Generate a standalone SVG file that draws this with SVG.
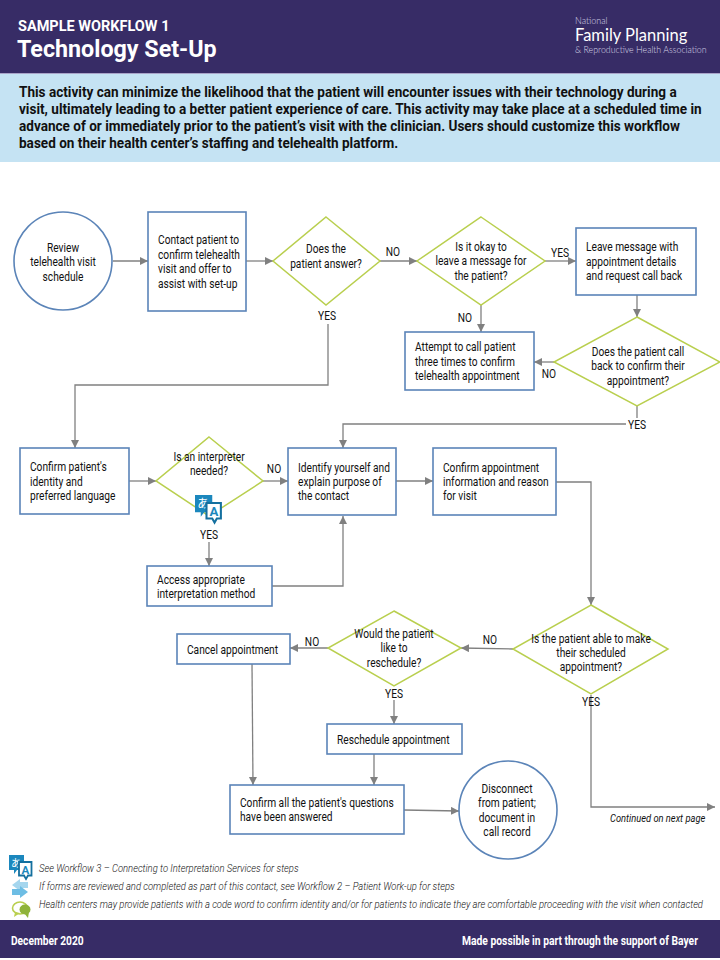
<svg xmlns="http://www.w3.org/2000/svg" width="720" height="960" viewBox="0 0 720 960">
<defs>
<marker id="arr" markerUnits="userSpaceOnUse" markerWidth="9" markerHeight="9" refX="8" refY="4" orient="auto"><path d="M0 0L8 4L0 8Z" fill="#808080"/></marker>
<g id="ico-lang">
<path d="M0 0H15V15H8L5 19V15H0Z" fill="#1b87bd"/>
<text x="2" y="11.500" style="font-family:'Noto Sans CJK JP',sans-serif;font-size:10.500px;fill:#fff;transform:none">あ</text>
<path d="M10 7H22.500V20.500H19L17 24L15 20.500H10Z" fill="#fff" stroke="#14709f" stroke-width="1.800"/>
<text x="12.500" y="18.500" style="font-size:11.500px;font-weight:700;fill:#1b87bd;transform:none">A</text>
</g>
</defs>
<style>
text{font-family:Roboto,"Liberation Sans",sans-serif;font-size:12px;fill:#111;transform-box:fill-box;transform-origin:0 50%;transform:scaleX(.85)}
.b{fill:#fff;stroke:#5b84b8;stroke-width:1.6}
.d{fill:none;stroke:#b9cf4e;stroke-width:1.5}
.c{fill:none;stroke:#808080;stroke-width:1.3}
.a{marker-end:url(#arr)}
.m{text-anchor:middle;transform-origin:50% 50%}
.w{fill:#fff;font-weight:700}
.h{font-weight:700;font-size:15px;transform:scaleX(.905)}
.n{font-style:italic;font-size:11px;font-weight:300;fill:#111;transform:scaleX(.86)}
</style>
<rect id="header" x="0" y="0" width="720" height="73" fill="#372c66"/>
<rect x="0" y="73" width="720" height="1" fill="#a9a4c9"/>
<rect id="intro" x="0" y="74" width="720" height="88" fill="#c5e3f3"/>
<text class="w" x="18" y="31" style="font-size:14.500px;transform:none">SAMPLE WORKFLOW 1</text>
<text class="w" x="17" y="57" style="font-size:24px;transform:scaleX(.97)">Technology Set-Up</text>
<text x="575" y="24" style="font-family:Lato,sans-serif;font-size:9px;font-weight:300;fill:#d8d6e6;transform:none">National</text>
<text x="575" y="41" style="font-family:Lato,sans-serif;font-size:16.500px;fill:#fff;transform:none">Family Planning</text>
<text x="575" y="53" style="font-family:Lato,sans-serif;font-size:8.800px;font-weight:300;fill:#d8d6e6;transform:none">&amp; Reproductive Health Association</text>
<text class="h" x="19" y="97">This activity can minimize the likelihood that the patient will encounter issues with their technology during a</text>
<text class="h" x="19" y="114">visit, ultimately leading to a better patient experience of care. This activity may take place at a scheduled time in</text>
<text class="h" x="19" y="131">advance of or immediately prior to the patient’s visit with the clinician. Users should customize this workflow</text>
<text class="h" x="19" y="148">based on their health center’s staffing and telehealth platform.</text>
<g id="connectors">
<path class="c a" d="M113 261H148"/>
<path class="c a" d="M246 261H273"/>
<path class="c a" d="M380 261H417"/>
<path class="c a" d="M545 261H576"/>
<path class="c a" d="M481 305V332"/>
<path class="c a" d="M637 295V317"/>
<path class="c a" d="M554 362H534"/>
<path class="c" d="M637 406V418"/>
<path class="c a" d="M626 424H343V448"/>
<path class="c a" d="M328 324V385H75V448"/>
<path class="c a" d="M129 481H156"/>
<path class="c a" d="M263 481H288"/>
<path class="c a" d="M209 542V566"/>
<path class="c a" d="M272 586H343V516"/>
<path class="c a" d="M396 481H433"/>
<path class="c a" d="M556 482H591V605"/>
<path class="c a" d="M513 649L461 648"/>
<path class="c a" d="M328 648H290"/>
<path class="c a" d="M394 700V724"/>
<path class="c a" d="M374 754V785"/>
<path class="c a" d="M252 664L253 785"/>
<path class="c a" d="M404 810L459 811"/>
<path class="c a" d="M591 695V807H715"/>
</g>
<g id="n1"><circle class="b" cx="63" cy="261" r="49"/><text class="m" x="63" y="252">Review</text><text class="m" x="63" y="266">telehealth visit</text><text class="m" x="63" y="281">schedule</text></g>
<g id="n2"><rect class="b" x="148" y="212" width="98" height="99"/><text x="158" y="244">Contact patient to</text><text x="158" y="259">confirm telehealth</text><text x="158" y="273">visit and offer to</text><text x="158" y="288">assist with set-up</text></g>
<g id="n3"><path class="d" d="M326 217L380 261L326 305L273 261Z"/><text class="m" x="326" y="253">Does the</text><text class="m" x="326" y="268">patient answer?</text></g>
<g id="n4"><path class="d" d="M481 217L545 261L481 305L417 261Z"/><text class="m" x="481" y="251">Is it okay to</text><text class="m" x="481" y="265">leave a message for</text><text class="m" x="481" y="280">the patient?</text></g>
<g id="n5"><rect class="b" x="576" y="228" width="120" height="67"/><text x="586" y="251">Leave message with</text><text x="586" y="266">appointment details</text><text x="586" y="280">and request call back</text></g>
<g id="n6"><rect class="b" x="405" y="332" width="129" height="58"/><text x="415" y="351">Attempt to call patient</text><text x="415" y="366">three times to confirm</text><text x="415" y="380">telehealth appointment</text></g>
<g id="n7"><path class="d" d="M637 317L720 362L637 406L554 362Z"/><text class="m" x="638" y="356">Does the patient call</text><text class="m" x="638" y="370">back to confirm their</text><text class="m" x="638" y="385">appointment?</text></g>
<g id="n8"><rect class="b" x="20" y="448" width="109" height="66"/><text x="30" y="471">Confirm patient's</text><text x="30" y="486">identity and</text><text x="30" y="500">preferred language</text></g>
<g id="n9"><path class="d" d="M209 437L263 481L209 516L156 481Z"/><text class="m" x="209" y="461">Is an interpreter</text><text class="m" x="209" y="475">needed?</text><use href="#ico-lang" transform="translate(195 495) scale(1.150)"/></g>
<g id="n10"><rect class="b" x="288" y="448" width="108" height="67"/><text x="298" y="472">Identify yourself and</text><text x="298" y="486">explain purpose of</text><text x="298" y="500">the contact</text></g>
<g id="n11"><rect class="b" x="433" y="448" width="123" height="67"/><text x="443" y="472">Confirm appointment</text><text x="443" y="486">information and reason</text><text x="443" y="500">for visit</text></g>
<g id="n12"><rect class="b" x="147" y="566" width="125" height="40"/><text x="157" y="584">Access appropriate</text><text x="157" y="598">interpretation method</text></g>
<g id="n13"><path class="d" d="M591 605L668 649L591 694L513 649Z"/><text class="m" x="591" y="643">Is the patient able to make</text><text class="m" x="591" y="657">their scheduled</text><text class="m" x="591" y="671">appointment?</text></g>
<g id="n14"><path class="d" d="M394 611L461 648L394 686L328 648Z"/><text class="m" x="394" y="638">Would the patient</text><text class="m" x="394" y="652">like to</text><text class="m" x="394" y="667">reschedule?</text></g>
<g id="n15"><rect class="b" x="177" y="634" width="113" height="30"/><text x="187" y="654">Cancel appointment</text></g>
<g id="n16"><rect class="b" x="327" y="724" width="135" height="30"/><text x="337" y="744">Reschedule appointment</text></g>
<g id="n17"><rect class="b" x="230" y="785" width="174" height="49"/><text x="240" y="807">Confirm all the patient's questions</text><text x="240" y="821">have been answered</text></g>
<g id="n18"><circle class="b" cx="508" cy="810" r="49"/><text class="m" x="507" y="793">Disconnect</text><text class="m" x="507" y="807">from patient;</text><text class="m" x="507" y="822">document in</text><text class="m" x="507" y="836">call record</text></g>
<g id="labels">
<text class="m" x="327" y="320">YES</text><text class="m" x="393" y="256">NO</text><text class="m" x="560" y="257">YES</text><text class="m" x="465" y="322">NO</text><text class="m" x="549" y="378">NO</text><text class="m" x="637" y="429">YES</text><text class="m" x="274" y="473">NO</text><text class="m" x="209" y="539">YES</text><text class="m" x="490" y="644">NO</text><text class="m" x="312" y="646">NO</text><text class="m" x="394" y="698">YES</text><text class="m" x="591" y="706">YES</text>
<text x="610" y="822" style="font-style:italic;font-size:11px;transform:scaleX(.85)">Continued on next page</text>
</g>
<g id="legend">
<use href="#ico-lang" x="9" y="855"/>
<path d="M20 879L12 885L20 891V888H28V882H20Z" fill="#a5d6ee"/>
<path d="M20 886L28 892L20 898V895H12V889H20Z" fill="#6dbde4"/>
<ellipse cx="20" cy="908" rx="7.500" ry="6" fill="#fff" stroke="#b9cf4e" stroke-width="1.600"/>
<path d="M15 912L14 917L20 913Z" fill="#b9cf4e"/>
<ellipse cx="25" cy="909.500" rx="5.500" ry="5" fill="#8fb33a"/>
<path d="M24 913L28 918L29 912Z" fill="#8fb33a"/>
<text class="n" x="39" y="872">See Workflow 3 – Connecting to Interpretation Services for steps</text>
<text class="n" x="39" y="890">If forms are reviewed and completed as part of this contact, see Workflow 2 – Patient Work-up for steps</text>
<text class="n" x="39" y="908">Health centers may provide patients with a code word to confirm identity and/or for patients to indicate they are comfortable proceeding with the visit when contacted</text>
</g>
<g id="footer">
<rect x="0" y="920" width="720" height="38" fill="#372c66"/>
<text class="w" x="11" y="945">December 2020</text>
<text class="w" x="462" y="945" style="transform:scaleX(.86)">Made possible in part through the support of Bayer</text>
</g>
</svg>
